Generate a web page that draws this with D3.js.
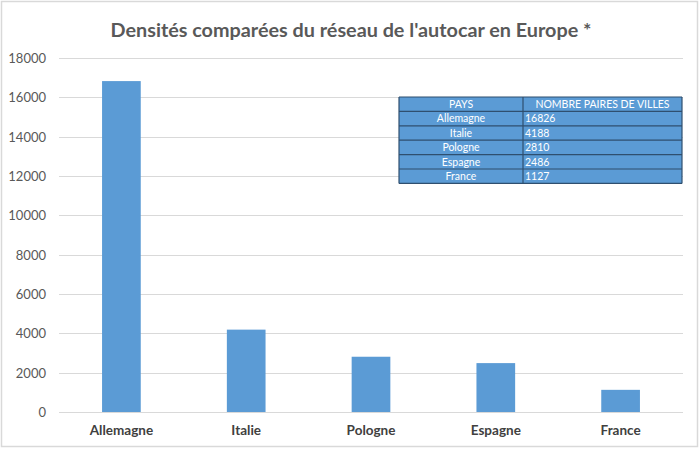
<!DOCTYPE html>
<html><head><meta charset="utf-8">
<script src="https://cdn.jsdelivr.net/npm/d3@7"></script>
<style>
html,body{margin:0;padding:0;background:#fff;}
svg{display:block;}
</style></head>
<body>
<script>
const categories = ["Allemagne","Italie","Pologne","Espagne","France"];
const values = [16826, 4188, 2810, 2486, 1127];
const yTicks = [0,2000,4000,6000,8000,10000,12000,14000,16000,18000];
const tableHeader = ["PAYS","NOMBRE PAIRES DE VILLES"];
const title = "Densités comparées du réseau de l'autocar en Europe *";

const W = 700, H = 449;
const svg = d3.select("body").append("svg").attr("width", W).attr("height", H);
const font = "Lato, 'Open Sans', sans-serif";

svg.append("rect").attr("x",1.5).attr("y",1.5).attr("width",W-4).attr("height",H-4)
  .attr("fill","#fff").attr("stroke","#d9d9d9").attr("stroke-width",1.5);

svg.append("text").attr("x",351).attr("y",37).attr("text-anchor","middle")
  .attr("font-family",font).attr("font-weight","bold").attr("font-size",19.8)
  .attr("fill","#595959").text(title);

const x = d3.scaleBand().domain(categories).range([59,683]).paddingInner(0.69).paddingOuter(0.345);
const y = d3.scaleLinear().domain([0,18000]).range([412,58]);

// gridlines
svg.append("g").selectAll("line").data(yTicks.filter(d=>d>0)).join("line")
  .attr("x1",59).attr("x2",683).attr("y1",d=>Math.round(y(d))+0.5).attr("y2",d=>Math.round(y(d))+0.5)
  .attr("stroke","#d9d9d9").attr("stroke-width",1);

// y axis labels
const yAxis = d3.axisLeft(y).tickValues(yTicks).tickSize(0).tickPadding(0).tickFormat(d3.format("d"));
const gy = svg.append("g").attr("transform","translate(46,0)").call(yAxis);
gy.select(".domain").remove();
gy.selectAll("text").attr("font-family",font).attr("font-size",13).attr("fill","#595959").attr("dy","0.35em");

// bars
svg.append("g").selectAll("rect").data(values).join("rect")
  .attr("x",(d,i)=>x(categories[i])).attr("width",x.bandwidth())
  .attr("y",d=>y(d)).attr("height",d=>y(0)-y(d))
  .attr("fill","#5b9bd5");

// x axis
const xAxis = d3.axisBottom(x).tickSize(0).tickPadding(13);
const gx = svg.append("g").attr("transform","translate(0,412)").call(xAxis);
gx.select(".domain").attr("stroke","#d9d9d9").attr("d","M59,0.5H683");
gx.selectAll("text").attr("font-family",font).attr("font-weight","bold").attr("font-size",13.5)
  .attr("fill","#404040").attr("dy","0.71em");

// table
const tx = 399, ty = 97, c1 = 124, c2 = 159, rh = 14.4;
const rows = [tableHeader].concat(categories.map((c,i)=>[c,String(values[i])]));
const tg = svg.append("g");
tg.append("rect").attr("x",tx).attr("y",ty).attr("width",c1+c2).attr("height",rh*rows.length)
  .attr("fill","#5b9bd5");
rows.forEach((r,i)=>{
  const yy = ty + i*rh;
  tg.append("text").attr("x",tx+c1/2).attr("y",yy+rh/2+3.8).attr("text-anchor","middle")
    .attr("font-family",font).attr("font-size",10.5).attr("fill","#fff").text(r[0]);
  tg.append("text").attr("x", i===0 ? tx+c1+c2/2 : tx+c1+2).attr("y",yy+rh/2+3.8)
    .attr("text-anchor", i===0 ? "middle" : "start")
    .attr("font-family",font).attr("font-size",10.5).attr("fill","#fff").text(r[1]);
});
for(let i=0;i<=rows.length;i++){
  tg.append("line").attr("x1",tx).attr("x2",tx+c1+c2).attr("y1",ty+i*rh).attr("y2",ty+i*rh)
    .attr("stroke","#2f4f6f").attr("stroke-width",1.2);
}
[tx, tx+c1, tx+c1+c2].forEach(xx=>{
  tg.append("line").attr("x1",xx).attr("x2",xx).attr("y1",ty).attr("y2",ty+rh*rows.length)
    .attr("stroke","#2f4f6f").attr("stroke-width",1.2);
});
</script>
</body></html>
